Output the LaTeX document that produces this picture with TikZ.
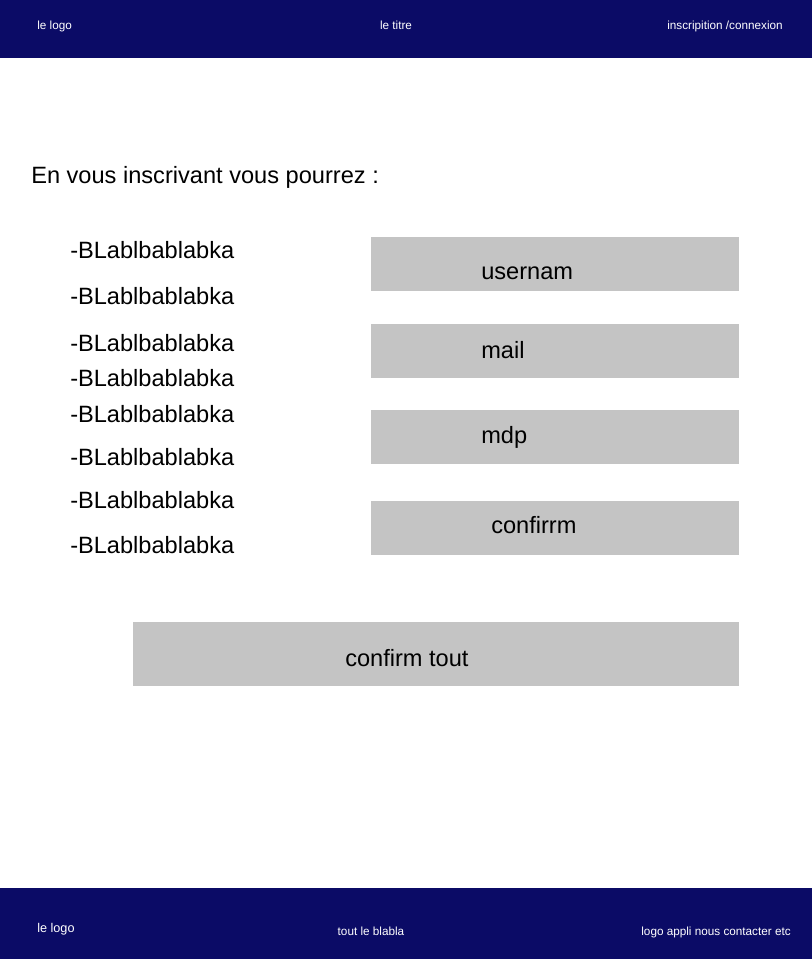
\documentclass[tikz,border=0pt]{standalone}
\usepackage{fontspec}
\setmainfont{Liberation Sans}
\definecolor{navy}{HTML}{0B0B66}
\definecolor{boxgray}{HTML}{C4C4C4}
\begin{document}
\begin{tikzpicture}[x=0.75pt,y=-0.75pt,
  bar/.style={fill=navy,draw=none},
  field/.style={fill=boxgray,draw=none},
  small/.style={text=white,font=\fontsize{8.8}{10}\selectfont,inner sep=0pt},
  big/.style={text=black,font=\fontsize{17.7}{20}\selectfont,inner sep=0pt,anchor=base west}]
\useasboundingbox (0,0) rectangle (812,959);
\fill[white] (0,0) rectangle (812,959);
% header
\fill[bar] (0,0) rectangle (812,58);
\node[small,anchor=base west] (hlogo) at (37,30) {le logo};
\node[small,anchor=base] (htitle) at (396,30) {le titre};
\node[small,anchor=base east] (hlogin) at (783,30) {inscripition /connexion};
% footer
\fill[bar] (0,888) rectangle (812,959);
\node[small,anchor=base west,font=\fontsize{9.5}{12}\selectfont] (flogo) at (37,932) {le logo};
\node[small,anchor=base] (fbla) at (371,935) {tout le blabla};
\node[small,anchor=base east] (fcontact) at (791,935) {logo appli nous contacter etc};
% intro
\node[big] (intro) at (31,184) {En vous inscrivant vous pourrez :};
% list
\foreach \y [count=\i] in {258,304,351,386,422,465,508,553}
  \node[big] (item\i) at (70,\y) {-BLablbablabka};
% fields
\fill[field] (371,237) rectangle (739,291);
\node[big] (user) at (481,279) {usernam};
\fill[field] (371,324) rectangle (739,378);
\node[big] (mail) at (481,358) {mail};
\fill[field] (371,410) rectangle (739,464);
\node[big] (mdp) at (481,443) {mdp};
\fill[field] (371,501) rectangle (739,555);
\node[big] (conf) at (491,533) {confirrm};
\fill[field] (133,622) rectangle (739,686);
\node[big] (all) at (345,666) {confirm tout};
\end{tikzpicture}
\end{document}
